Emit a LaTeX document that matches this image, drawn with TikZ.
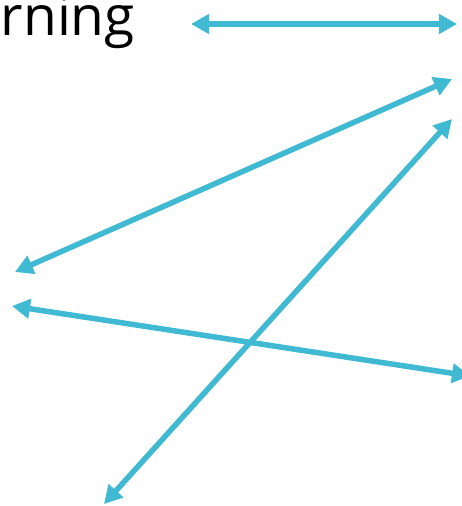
\documentclass[tikz,border=0pt]{standalone}
\usepackage{fontspec}
\setmainfont{Open Sans}
\usetikzlibrary{arrows.meta}
\definecolor{arrowcyan}{RGB}{64,186,211}
\begin{document}
\begin{tikzpicture}[x=1pt,y=-1pt,
  link/.style={draw=arrowcyan,line width=5.5pt,{Triangle[length=18pt,width=19pt]}-{Triangle[length=18pt,width=19pt]}}]
\useasboundingbox (0,0) rectangle (462,506);
\clip (0,0) rectangle (462,506);
\node[anchor=base east,inner sep=0pt,font=\fontsize{55}{62}\selectfont] (lbl) at (135,35) {rning};
\coordinate (a1) at (191,24);
\coordinate (b1) at (457,24);
\coordinate (a2) at (452,79);
\coordinate (b2) at (15,272);
\coordinate (a3) at (452,119);
\coordinate (b3) at (104,504);
\coordinate (a4) at (12,306);
\coordinate (b4) at (470,376);
\draw[link] (a1) -- (b1);
\draw[link] (a2) -- (b2);
\draw[link] (a3) -- (b3);
\draw[link] (a4) -- (b4);
\end{tikzpicture}
\end{document}
